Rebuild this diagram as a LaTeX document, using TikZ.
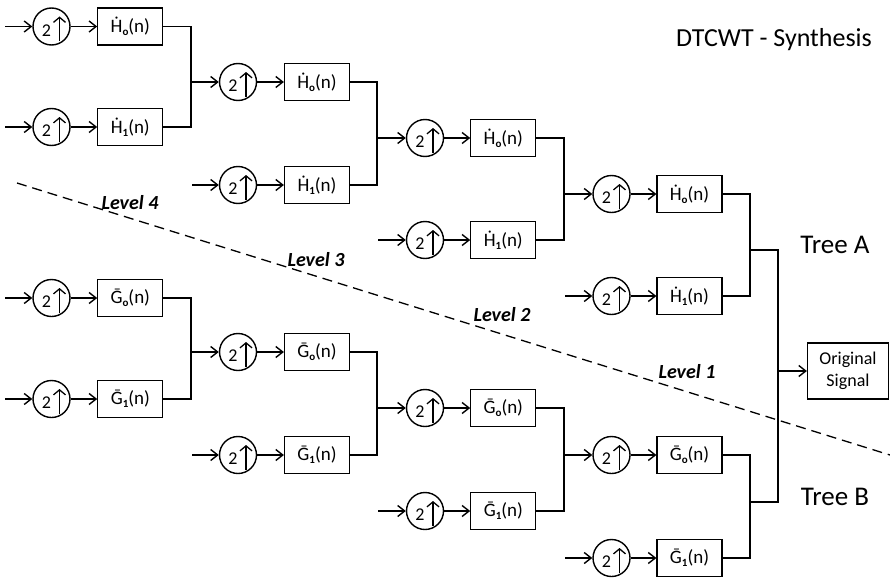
\documentclass[tikz,border=0pt]{standalone}
\usepackage{fontspec}
\setmainfont{Carlito}
\usetikzlibrary{arrows.meta}
\newcommand\subidx[1]{\raisebox{-0.32ex}{\fontsize{11}{11}\selectfont\bfseries #1}}
\begin{document}
\begin{tikzpicture}[x=1pt,y=-1pt,
  upsm/.style={circle, draw, line width=1.4pt, minimum size=37pt, inner sep=0pt,
    text height=19.6pt, text depth=0pt, font=\fontsize{18}{18}\selectfont,
    path picture={\draw[line width=1.3pt,-{Straight Barb[length=5pt,width=12pt,line width=1.3pt]}]
      ([xshift=8pt,yshift=-15pt]path picture bounding box.center) --
      ([xshift=8pt,yshift=10pt]path picture bounding box.center);}},
  filt/.style={draw, line width=1.2pt, minimum width=65pt, minimum height=37pt,
    inner sep=0pt, font=\fontsize{19}{19}\selectfont},
  wire/.style={line width=1.4pt},
  arr/.style={wire,-{Straight Barb[length=7pt,width=11pt,line width=1.4pt]}},
  lvl/.style={font=\fontsize{20}{20}\selectfont\bfseries\itshape, inner sep=0pt},
  big/.style={font=\fontsize{27}{27}\selectfont, inner sep=0pt, anchor=base},
  dline/.style={line width=1.3pt, dash pattern=on 10pt off 6pt}
]
\useasboundingbox (0,0) rectangle (890,578);

% circles and filters
\foreach \id/\cx/\bx/\y/\lab in {
  A4a/51.5/130.3/26.5/{Ḣ\subidx{o}(n)},
  A4b/51.5/130.3/127/{Ḣ\subidx{1}(n)},
  A3a/238/317/82/{Ḣ\subidx{o}(n)},
  A3b/238/317/185/{Ḣ\subidx{1}(n)},
  A2a/425/503.3/138/{Ḣ\subidx{o}(n)},
  A2b/425/503.3/240/{Ḣ\subidx{1}(n)},
  A1a/611.5/689.5/194/{Ḣ\subidx{o}(n)},
  A1b/611.5/689.5/296/{Ḣ\subidx{1}(n)},
  B4a/51.5/130.3/298/{Ḡ\subidx{o}(n)},
  B4b/51.5/130.3/399/{Ḡ\subidx{1}(n)},
  B3a/238/317/352/{Ḡ\subidx{o}(n)},
  B3b/238/317/455/{Ḡ\subidx{1}(n)},
  B2a/425/503.3/408/{Ḡ\subidx{o}(n)},
  B2b/425/503.3/511/{Ḡ\subidx{1}(n)},
  B1a/611.5/689.5/455/{Ḡ\subidx{o}(n)},
  B1b/611.5/689.5/558/{Ḡ\subidx{1}(n)}}
{
  \node[upsm] (c\id) at (\cx,\y) {2\hspace*{10pt}};
  \node[filt] (f\id) at (\bx,\y) {\lab};
  \draw[arr] (c\id) -- (f\id);
}

% free input ends
\foreach \id/\sx in {A4a/5, A4b/5, A3b/192, A2b/378, A1b/565,
                     B4a/5, B4b/5, B3b/192, B2b/378, B1b/565}
{
  \coordinate (in\id) at (\sx,0);
  \draw[arr] (c\id.west -| in\id) -- (c\id);
}

% merge columns
\coordinate (mx4) at (191,0);
\coordinate (mx3) at (377,0);
\coordinate (mx2) at (564,0);
\coordinate (mx1) at (750,0);
\coordinate (bus) at (778,0);

\foreach \t in {A,B}{
  \draw[wire] (f\t4a.east) -- (f\t4a.east -| mx4) -- (f\t4b.east -| mx4) -- (f\t4b.east);
  \draw[arr] (c\t3a.west -| mx4) -- (c\t3a);
  \draw[wire] (f\t3a.east) -- (f\t3a.east -| mx3) -- (f\t3b.east -| mx3) -- (f\t3b.east);
  \draw[arr] (c\t2a.west -| mx3) -- (c\t2a);
  \draw[wire] (f\t2a.east) -- (f\t2a.east -| mx2) -- (f\t2b.east -| mx2) -- (f\t2b.east);
  \draw[arr] (c\t1a.west -| mx2) -- (c\t1a);
  \draw[wire] (f\t1a.east) -- (f\t1a.east -| mx1) -- (f\t1b.east -| mx1) -- (f\t1b.east);
}

% output
\node[draw, line width=1.2pt, minimum width=81pt, minimum height=56pt, inner sep=0pt,
  align=center, font=\fontsize{18}{22}\selectfont] (orig) at (848,371) {Original\\Signal};
\coordinate (jA) at (750,250);
\coordinate (jB) at (750,502);
\draw[wire] (jA) -- (jA -| bus) -- (jB -| bus) -- (jB);
\draw[arr] (orig.west -| bus) -- (orig);

% dashed separator
\coordinate (d1) at (17,183);
\coordinate (d2) at (890,455);
\draw[dline] (d1) -- (d2);

% labels
\node[lvl] (l4) at (130,203) {Level 4};
\node[lvl] (l3) at (316,260) {Level 3};
\node[lvl] (l2) at (502,315) {Level 2};
\node[lvl] (l1) at (687,372) {Level 1};

\node[big, font=\fontsize{26}{26}\selectfont] (title) at (774,46) {DTCWT - Synthesis};
\node[big] (ta) at (835,253) {Tree A};
\node[big] (tb) at (835,505) {Tree B};
\end{tikzpicture}
\end{document}
